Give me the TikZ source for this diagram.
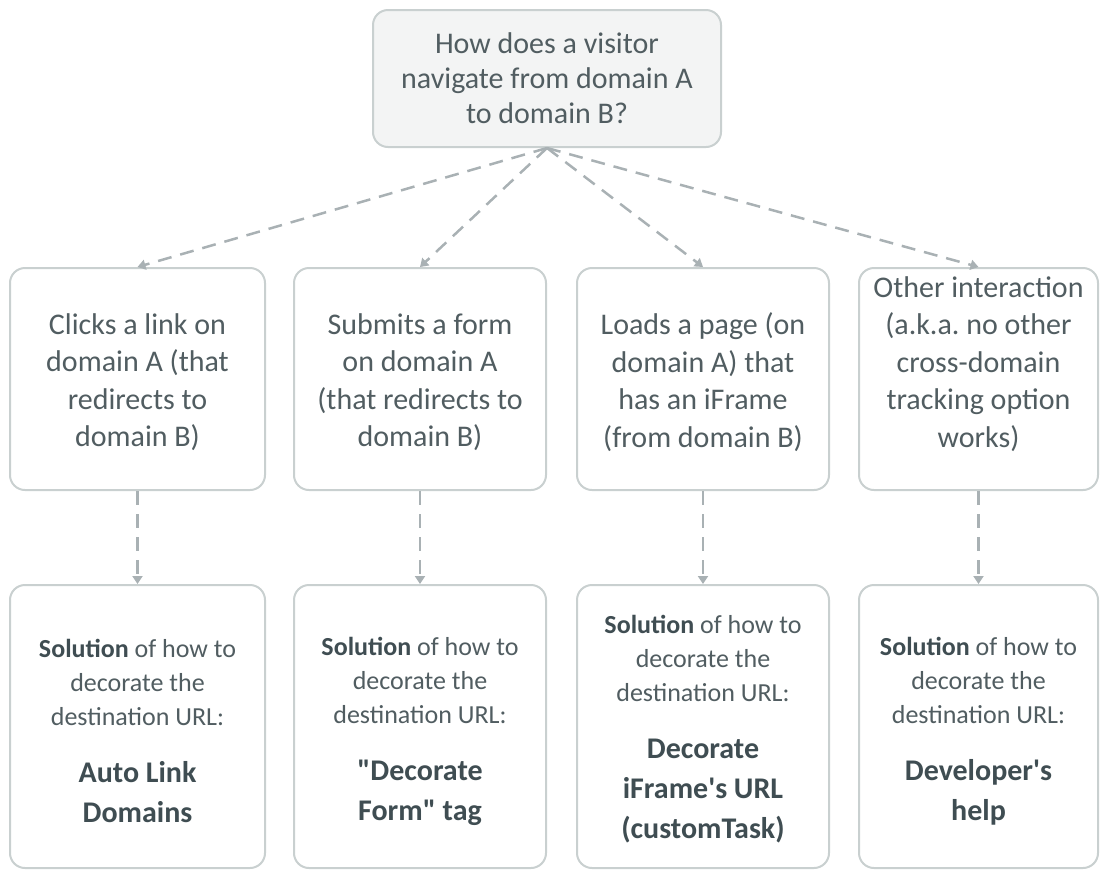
\documentclass[tikz,border=0pt]{standalone}
\usepackage{fontspec}
\setmainfont{Carlito}[Ligatures=TeXOff]
\usetikzlibrary{arrows.meta}
\frenchspacing
\definecolor{boxline}{HTML}{C9D0D0}
\definecolor{topfill}{HTML}{F3F4F4}
\definecolor{txt}{HTML}{515D61}
\definecolor{txtdark}{HTML}{3F4D52}
\definecolor{arr}{HTML}{A9B1B4}
\tikzset{
  card/.style={draw=boxline, line width=2pt, rounded corners=15pt, fill=white, text=txt, align=center, inner sep=0pt},
  qcard/.style={card, fill=topfill, minimum width=348pt, minimum height=137pt, font=\fontsize{30}{35}\selectfont},
  midcard/.style={card, minimum height=222pt, font=\fontsize{30}{37.5}\selectfont},
  solcard/.style={card, minimum height=283pt},
  soltext/.style={text=txt, align=center, inner sep=0pt, font=\fontsize{26}{34}\selectfont},
  conn/.style={draw=arr, line width=2.5pt, dash pattern=on 14pt off 9pt, -{Triangle[length=8pt,width=10pt]}},
}
\newcommand{\bigsol}[1]{{\fontsize{30}{40}\selectfont\bfseries\color{txtdark}\begin{tabular}{@{}c@{}}#1\end{tabular}}}
\begin{document}
\begin{tikzpicture}[x=1pt,y=-1pt]
\useasboundingbox (0,0) rectangle (1104,871);
\node[qcard] (q) at (547,78.5) {How does a visitor\\navigate from domain A\\to domain B?};
\node[midcard, minimum width=255pt] (b1) at (137.5,379) {};
\node[midcard, minimum width=252pt] (b2) at (420,379) {};
\node[midcard, minimum width=252pt] (b3) at (703,379) {};
\node[midcard, minimum width=239pt] (b4) at (978.5,379) {};
\node[font=\fontsize{30}{37.5}\selectfont, text=txt, align=center] (b1t) at (137.5,382) {Clicks a link on\\domain A (that\\redirects to\\domain B)};
\node[font=\fontsize{30}{37.5}\selectfont, text=txt, align=center] (b2t) at (420,382) {Submits a form\\on domain A\\(that redirects to\\domain B)};
\node[font=\fontsize{30}{37.5}\selectfont, text=txt, align=center] (b3t) at (703,382) {Loads a page (on\\domain A) that\\has an iFrame\\(from domain B)};
\node[font=\fontsize{30}{37.5}\selectfont, text=txt, align=center] (b4t) at (978.5,364) {Other interaction\\(a.k.a. no other\\cross-domain\\tracking option\\works)};
\node[solcard, minimum width=255pt] (c1) at (137.5,726.5) {};
\node[solcard, minimum width=252pt] (c2) at (420,726.5) {};
\node[solcard, minimum width=252pt] (c3) at (703,726.5) {};
\node[solcard, minimum width=239pt] (c4) at (978.5,726.5) {};
\node[soltext] (c1t) at (137.5,737) {\textbf{\color{txtdark}Solution} of how to\\decorate the\\destination URL:\\[28pt]\bigsol{Auto Link\\Domains}};
\node[soltext] (c2t) at (420,735) {\textbf{\color{txtdark}Solution} of how to\\decorate the\\destination URL:\\[28pt]\bigsol{"Decorate\\Form" tag}};
\node[soltext] (c3t) at (703,733) {\textbf{\color{txtdark}Solution} of how to\\decorate the\\destination URL:\\[28pt]\bigsol{Decorate\\iFrame's URL\\(customTask)}};
\node[soltext] (c4t) at (978.5,735) {\textbf{\color{txtdark}Solution} of how to\\decorate the\\destination URL:\\[28pt]\bigsol{Developer's\\help}};
\path[conn] (q.south) -- (b1.north);
\path[conn] (q.south) -- (b2.north);
\path[conn] (q.south) -- (b3.north);
\path[conn] (q.south) -- (b4.north);
\path[conn] (b1.south) -- (c1.north);
\path[conn] (b2.south) -- (c2.north);
\path[conn] (b3.south) -- (c3.north);
\path[conn] (b4.south) -- (c4.north);
\end{tikzpicture}
\end{document}
